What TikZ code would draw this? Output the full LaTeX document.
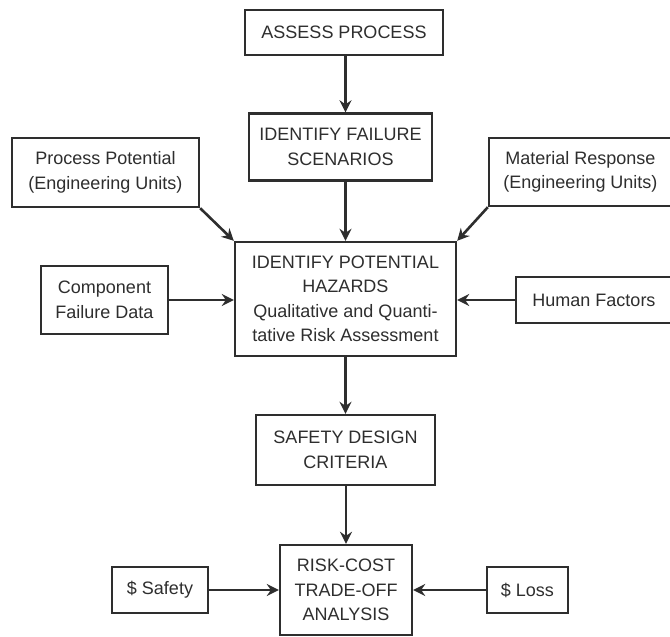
\documentclass[tikz,border=0pt]{standalone}
\usepackage{fontspec}
\setmainfont{Liberation Sans}
\usetikzlibrary{arrows.meta}
\definecolor{ink}{HTML}{2E2E2E}
\begin{document}
\begin{tikzpicture}[x=1pt,y=-1pt,
  box/.style={draw=ink,line width=2.4pt,fill=white,text=ink,align=center,
    inner sep=0pt,font=\fontsize{18}{24.5}\selectfont},
  arr/.style={draw=ink,line width=2.6pt,
    -{Stealth[length=12pt,width=12pt,inset=4pt]}}]
\useasboundingbox (0,0) rectangle (670,637);
\begin{scope}
\clip (0,0) rectangle (670,637);
% main column
\node[box,minimum width=198pt,minimum height=45pt] (assess) at (344,32.5) {ASSESS PROCESS};
\node[box,minimum width=183pt,minimum height=67pt] (scen) at (340.5,147) {IDENTIFY FAILURE\\SCENARIOS};
\node[box,minimum width=221pt,minimum height=114pt] (haz) at (345.5,299)
  {IDENTIFY POTENTIAL\\HAZARDS\\Qualitative and Quanti-\\tative Risk Assessment};
\node[box,minimum width=179pt,minimum height=70pt] (crit) at (345.5,450) {SAFETY DESIGN\\CRITERIA};
\node[box,minimum width=132pt,minimum height=90pt] (risk) at (346,590) {RISK-COST\\TRADE-OFF\\ANALYSIS};
% inputs
\node[box,minimum width=187pt,minimum height=69pt] (proc) at (105.5,172.5) {Process Potential\\(Engineering Units)};
\node[box,minimum width=183pt,minimum height=68pt] (mat) at (580.5,172) {Material Response\\(Engineering Units)};
\node[box,minimum width=127pt,minimum height=68pt] (comp) at (104.5,300) {Component\\Failure Data};
\node[box,minimum width=156pt,minimum height=46pt] (human) at (594,300) {Human Factors};
\node[box,minimum width=96pt,minimum height=46pt] (dsafe) at (160,590) {\$ Safety};
\node[box,minimum width=81pt,minimum height=46pt] (dloss) at (527.5,590) {\$ Loss};
% connectors
\draw[arr] (assess.south -| haz.north) -- (scen.north -| haz.north);
\draw[arr] (scen.south -| haz.north) -- (haz.north);
\draw[arr] (haz.south) -- (haz.south |- crit.north);
\draw[arr] (crit.south -| risk.north) -- (risk.north);
\draw[arr] (proc.south east) -- (haz.north west);
\draw[arr] (mat.south west) -- (haz.north east);
\draw[arr] (comp.east) -- (comp.east -| haz.west);
\draw[arr] (human.west) -- (human.west -| haz.east);
\draw[arr] (dsafe.east) -- (dsafe.east -| risk.west);
\draw[arr] (dloss.west) -- (dloss.west -| risk.east);
\end{scope}
\end{tikzpicture}
\end{document}
